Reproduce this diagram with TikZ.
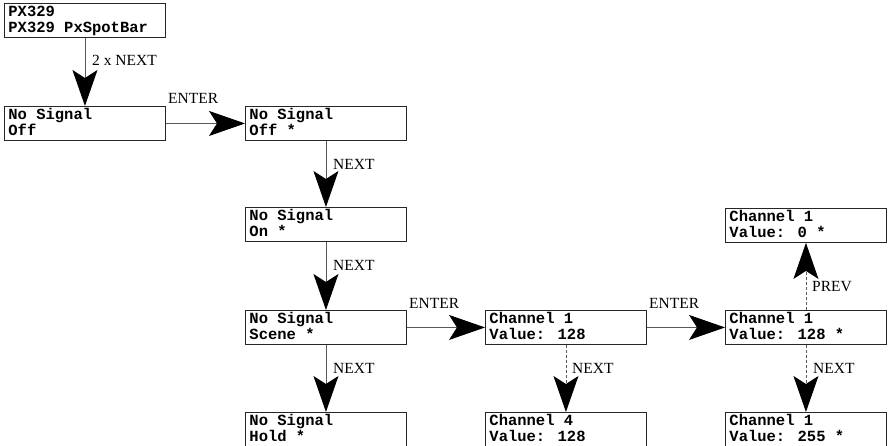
\documentclass[tikz,border=0pt]{standalone}
\usepackage{fontspec}
\setmainfont{Liberation Serif}
\newfontfamily\lcdfont{Liberation Mono}
\usetikzlibrary{arrows.meta}

% two-line display text, fixed baselines
\newcommand\lcdtext[2]{\parbox[t][34pt][t]{161pt}{\leftskip=4pt\baselineskip=16pt\lineskiplimit=-50pt\rule{0pt}{13.5pt}#1\par#2}}

\tikzset{
  lcd/.style={draw=black!85, line width=0.9pt, inner sep=0pt, anchor=north west,
    font=\lcdfont\bfseries\fontsize{15.5}{16}\selectfont},
  conn/.style={draw=black!65, line width=0.9pt,
    -{Stealth[length=36pt,width=25pt,inset=8pt,color=black]}},
  dconn/.style={conn, dash pattern=on 3pt off 2pt},
  lbl/.style={anchor=base west, inner sep=0pt, font=\fontsize{15.5}{16}\selectfont}
}

\begin{document}
\begin{tikzpicture}[x=1pt,y=-1pt]
\useasboundingbox (0,0) rectangle (888,445);

% display states
\node[lcd] (px)    at (4,3)     {\lcdtext{PX329}{PX329 PxSpotBar}};
\node[lcd] (off)   at (4,106)   {\lcdtext{No Signal}{Off}};
\node[lcd] (offs)  at (245,106) {\lcdtext{No Signal}{Off *}};
\node[lcd] (ons)   at (245,207) {\lcdtext{No Signal}{On *}};
\node[lcd] (scene) at (245,310) {\lcdtext{No Signal}{Scene *}};
\node[lcd] (hold)  at (245,412) {\lcdtext{No Signal}{Hold *}};
\node[lcd] (ch1)   at (485,310) {\lcdtext{Channel 1}{Value: 128}};
\node[lcd] (ch4)   at (485,412) {\lcdtext{Channel 4}{Value: 128}};
\node[lcd] (edit)  at (725,310) {\lcdtext{Channel 1}{Value: 128 *}};
\node[lcd] (vmax)  at (725,412) {\lcdtext{Channel 1}{Value: 255 *}};
\node[lcd] (vmin)  at (725,208) {\lcdtext{Channel 1}{Value: 0 *}};

% transitions
\draw[conn]  (px.south)    -- (off.north);
\draw[conn]  (off.east)    -- (offs.west);
\draw[conn]  (offs.south)  -- (ons.north);
\draw[conn]  (ons.south)   -- (scene.north);
\draw[conn]  (scene.south) -- (hold.north);
\draw[conn]  (scene.east)  -- (ch1.west);
\draw[conn]  (ch1.east)    -- (edit.west);
\draw[dconn] (ch1.south)   -- (ch4.north);
\draw[dconn] (edit.south)  -- (vmax.north);
\draw[dconn] (edit.north)  -- (vmin.south);

% key labels
\node[lbl] (k1)  at (92,65)   {2 x NEXT};
\node[lbl] (k2)  at (168,103) {ENTER};
\node[lbl] (k3)  at (333,169) {NEXT};
\node[lbl] (k4)  at (333,270) {NEXT};
\node[lbl] (k5)  at (333,373) {NEXT};
\node[lbl] (k6)  at (409,308) {ENTER};
\node[lbl] (k7)  at (649,308) {ENTER};
\node[lbl] (k8)  at (572,373) {NEXT};
\node[lbl] (k9)  at (813,373) {NEXT};
\node[lbl] (k10) at (812,291) {PREV};
\end{tikzpicture}
\end{document}
